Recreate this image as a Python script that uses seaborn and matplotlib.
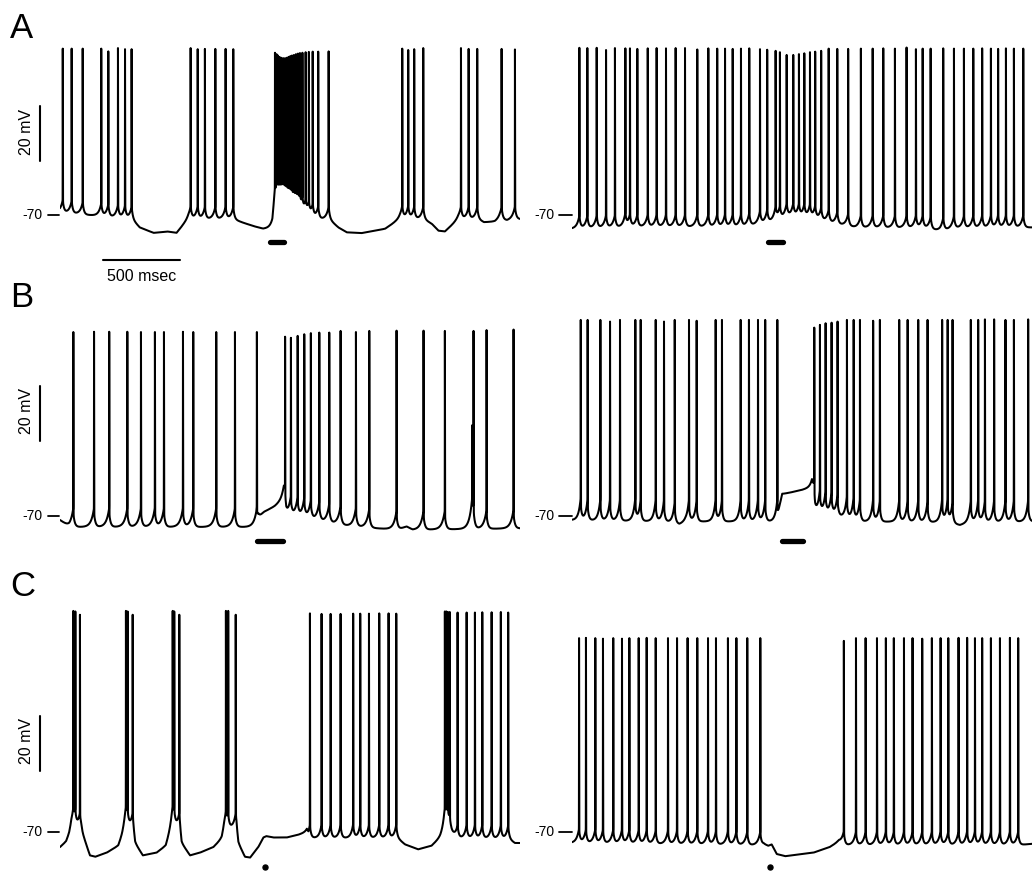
import numpy as np
import matplotlib
matplotlib.use("Agg")
import matplotlib.pyplot as plt
import seaborn as sns

# ---------------- data (time in ms, membrane potential in mV) ----------------
# Row A, left
a_left_spikes = [18, 76, 148, 269, 315, 378, 424, 467,
                 852, 898, 945, 1013, 1080, 1130,
                 1402, 1412, 1421, 1431, 1441, 1451, 1460, 1470, 1480, 1491, 1502,
                 1513, 1526, 1539, 1552, 1565, 1581, 1602, 1623, 1648, 1684, 1752,
                 2232, 2271, 2310, 2369, 2615, 2665, 2721, 2880, 2967]
a_left_peaks = [-9.5, -9.5, -9.5, -9.5, -10.5, -9.3, -9.7, -9.7,
                -9.3, -9.7, -9.6, -9.6, -9.6, -9.7,
                -11, -11.5, -12, -12.5, -12.8, -13, -13, -13, -12.8, -12.5, -12.2,
                -12, -11.8, -11.5, -11.3, -11.1, -11, -10.8, -10.7, -10.6, -10.6, -10.5,
                -9.5, -10, -9.7, -9.3, -9.3, -9.6, -9.6, -9.6, -9.8]
a_left_base_t = [0, 470, 520, 610, 700, 760, 805, 838, 1130, 1195, 1260, 1325, 1385,
                 1398, 1410, 1500, 1565, 1645, 1695, 1755, 1815, 1870, 1965, 2055,
                 2120, 2185, 2218, 2372, 2425, 2468, 2510, 2565, 2598, 2725, 2765,
                 2837, 2870, 2915, 2965, 3000]
a_left_base_v = [-69, -71.5, -74.5, -76.5, -76, -76.5, -73.5, -71.5, -71.5, -72.8, -74, -75,
                 -74.7, -70, -69.5, -69.5, -70, -71, -71.5, -71.5, -74.5, -76.3, -76.6,
                 -75.7, -75, -72.6, -71.5, -71.5, -73.2, -75.7, -76, -73.2, -71.5, -71.5,
                 -72.6, -72.4, -71.5, -72, -71.3, -71.5]

# Row A, right
a_right_spikes = [48, 100, 161, 222, 280, 348, 378, 426, 494, 552,
                  613, 676, 737, 817, 889, 947, 998, 1048, 1102, 1156,
                  1226, 1273, 1328, 1356, 1400, 1443, 1480, 1515, 1552, 1586,
                  1625, 1674, 1730, 1801, 1884, 1961, 2030, 2106, 2182, 2243,
                  2287, 2339, 2421, 2491, 2556, 2617, 2675, 2732, 2779, 2830,
                  2882, 2943]
a_right_peaks = [-9.2, -9.3, -9.2, -10, -9.3, -9.4, -9.4, -9.6, -9.4, -9.3,
                 -9.4, -9.3, -9.3, -9.8, -9.4, -9.5, -9.5, -9.6, -9.5, -9.4,
                 -9.7, -9.9, -10.3, -10.8, -11.8, -11.8, -11.5, -11.2, -10.8, -10.6,
                 -10.3, -9.5, -9.6, -9.6, -9.5, -9.5, -9.4, -9.5, -9.1, -9.7,
                 -9.5, -9.5, -9.4, -9.5, -9.5, -9.5, -9.4, -9.5, -9.6, -9.4,
                 -9.5, -9.5]
a_right_base_t = [0, 400, 1100, 1250, 1330, 1400, 1550, 1700, 1850, 2300, 2400, 2500, 3000]
a_right_base_v = [-75, -74.3, -74.3, -73, -72, -70.5, -71, -73, -74.5, -74.8,
                  -75.7, -74.8, -74.5]

# Row B, left
b_left_spikes = [87, 222, 321, 439, 528, 619, 678, 802, 869, 1019, 1141, 1284,
                 1468, 1506, 1550, 1593, 1636, 1691, 1756, 1830, 1930, 2017, 2195,
                 2371, 2510, 2688, 2697, 2782, 2958]
b_left_peaks = [-3.1, -3, -3, -3, -3.1, -3.1, -3.1, -3, -3.1, -3.1, -3.1, -3.1,
                -4.8, -5.2, -4.5, -3.9, -3.5, -3.3, -3.3, -2.7, -3.1, -2.7, -2.6,
                -2.6, -2.7, -37, -2.7, -2.4, -2.2]
b_left_base_t = [0, 60, 1280, 1295, 1330, 1400, 1440, 1460, 1475, 1600, 1750, 1900,
                 2200, 2260, 2300, 3000]
b_left_base_v = [-71.5, -74, -74, -70.5, -68.5, -66.5, -65, -64, -70, -71, -72.5,
                 -73.8, -75, -73.8, -75, -74.5]

# Row B, right
b_right_spikes = [57, 102, 185, 248, 313, 413, 448, 546, 600, 670, 763, 813, 937,
                  978, 1100, 1154, 1213, 1260, 1339,
                  1580, 1617, 1654, 1693, 1732, 1793, 1837, 1878, 1964, 2008, 2134,
                  2189, 2258, 2319, 2414, 2450, 2482, 2601, 2649, 2693, 2753, 2827,
                  2882, 2975]
b_right_peaks = [1.3, 1.3, 1.3, 0.7, 1.3, 1.3, 1.3, 1.3, 0.7, 1.3, 1.3, 1.0, 1.3,
                 1.3, 1.3, 1.3, 1.3, 1.3, 1.3,
                 -1.5, -0.5, 0.1, 0.3, 0.7, 1.3, 1.3, 1.3, 1.0, 1.3, 1.3,
                 1.3, 1.3, 1.3, 1.3, 1.3, 1.3, 1.3, 1.3, 1.5, 1.5, 1.3, 1.3, 1.5]
b_right_base_t = [0, 600, 700, 740, 900, 1340, 1352, 1370, 1420, 1500, 1565, 1585,
                  1700, 1800, 1900, 2450, 2530, 2600, 3000]
b_right_base_v = [-71.5, -72, -73, -72, -72, -72, -67.5, -62, -61.5, -60.5,
                  -59.5, -68.5, -69.5, -71, -72, -72.3, -73.3, -72.3, -72]

# Row C, left
c_left_spikes = [87, 100, 130, 430, 441, 474, 735, 745, 778, 1082, 1097, 1146,
                 1630, 1706, 1765, 1830, 1912, 1958, 2015, 2082, 2143, 2193,
                 2510, 2520, 2530, 2542, 2593, 2652, 2706, 2754, 2815, 2875, 2923]
c_left_peaks = [10.4, 10.2, 9.0, 10.4, 10.2, 9.0, 10.4, 10.2, 9.0, 10.4, 10.4, 9.0,
                9.5, 9.3, 9.3, 9.3, 9.4, 9.4, 9.4, 9.5, 9.5, 9.4,
                10.2, 10.2, 10.0, 10.0, 9.8, 9.8, 9.8, 9.9, 9.9, 10.0, 9.8]
c_left_base_t = [0, 40, 60, 75, 135, 150, 195, 230, 305, 380, 405, 425, 475, 490, 540,
                 630, 690, 710, 730, 780, 793, 848, 913, 1000, 1055, 1072, 1150,
                 1163, 1206, 1240, 1293, 1326, 1345, 1391, 1478, 1554, 1610, 1620,
                 2195, 2217, 2250, 2336, 2423, 2480, 2505, 2550, 2590, 2925, 2967, 3000]
c_left_base_v = [-75.5, -73.5, -71, -68, -68, -71, -78.5, -79, -77.5, -75, -71.5, -68,
                 -68, -74, -78.5, -77.5, -75, -71.5, -68, -68, -74, -78.5,
                 -77.5, -75.5, -72.5, -69, -68, -74, -79, -79.3, -75.5, -72,
                 -71.5, -72, -72, -71, -70, -72.2, -72.2, -73, -74.5, -76.3,
                 -75, -72, -70, -70, -72.2, -72.5, -74, -74]

# Row C, right
c_right_spikes = [46, 91, 152, 202, 269, 326, 374, 435, 487, 546, 626, 685, 754, 817,
                  887, 939, 1017, 1072, 1143, 1228,
                  1773, 1852, 1915, 1989, 2047, 2099, 2165, 2221, 2284, 2347, 2404,
                  2454, 2521, 2577, 2628, 2675, 2732, 2791, 2856, 2910]
c_right_peaks = [0.5, 0.6, 0.5, 0.3, 0.5, 0.3, 0.5, 0.5, 0.6, 0.5, 0.5, 0.5, 0.5, 0.5,
                 0.5, 0.5, 0.5, 0.5, 0.5, 0.5,
                 -0.5, 0.5, 0.5, 0.5, 0.5, 0.5, 0.5, 0.5, 0.3, 0.5, 0.5,
                 0.5, 0.6, 0.6, 0.5, 0.5, 0.5, 0.5, 0.6, 0.5]
c_right_base_t = [0, 1230, 1250, 1280, 1302, 1335, 1390, 1575, 1680, 1740, 1780, 2900, 3000]
c_right_base_v = [-74, -74.8, -74.3, -75, -74.5, -78, -78.8, -77.5, -75.5, -73.5, -74.8,
                  -74.8, -74.3]

# stimulus markers (start, end ms) and level (mV)
stim_bars = {"A_left": (1369, 1460), "A_right": (1279, 1378),
             "B_left": (1282, 1455), "B_right": (1367, 1504)}
stim_dots = {"C_left": 1337, "C_right": 1291}

row_labels = ["A", "B", "C"]
scale_mv = 20
scale_ms = 500

# ---------------- figure / layout ----------------
FIG_W, FIG_H = 1034, 873
PX_PER_MV = 2.75
TRACE_W_PX = 460
T_MAX = 3000
COL_X = [60, 572]
ROW_Y70 = [215, 516, 832]
ROW_YLIM = [(-85, 0), (-85, 10), (-85, 15)]

sns.set_theme(style="white")
plt.rcParams["font.family"] = ["Liberation Sans", "DejaVu Sans"]
plt.rcParams["text.color"] = "black"

fig = plt.figure(figsize=(FIG_W / 100, FIG_H / 100), dpi=100)


def rect(x_px, y70_px, ylim):
    bottom_px = y70_px + (-70 - ylim[0]) * PX_PER_MV
    h_px = (ylim[1] - ylim[0]) * PX_PER_MV
    return [x_px / FIG_W, 1 - bottom_px / FIG_H, TRACE_W_PX / FIG_W, h_px / FIG_H]


def build(spk_t, spk_v, base_t, base_v, ppre, tpre, ppost, tpost):
    t = np.arange(0, T_MAX, 0.25)
    v = np.interp(t, base_t, base_v)
    for ts in spk_t:
        dt = t - ts
        v += np.where(dt < 0, ppre * np.exp(np.minimum(dt, 0) / tpre),
                      ppost * np.exp(-np.maximum(dt, 0) / tpost))
    sub = v.copy()
    for ts, pk in zip(spk_t, spk_v):
        dt = t - ts
        amp = pk - np.interp(ts, t, sub)
        w = np.where(dt < 0, 0.5, 0.9)
        v += amp * np.exp(-(dt / w) ** 2)
    return t, v


panels = [
    (0, 0, a_left_spikes, a_left_peaks, a_left_base_t, a_left_base_v, (4.5, 16, 4.5, 8)),
    (0, 1, a_right_spikes, a_right_peaks, a_right_base_t, a_right_base_v, (4.5, 16, 4.5, 8)),
    (1, 0, b_left_spikes, b_left_peaks, b_left_base_t, b_left_base_v, (7, 18, 5, 9)),
    (1, 1, b_right_spikes, b_right_peaks, b_right_base_t, b_right_base_v, (8, 14, 5, 8)),
    (2, 0, c_left_spikes, c_left_peaks, c_left_base_t, c_left_base_v, (5, 14, 4.5, 8)),
    (2, 1, c_right_spikes, c_right_peaks, c_right_base_t, c_right_base_v, (5, 16, 4.5, 8)),
]

stim_keys = [["A_left", "A_right"], ["B_left", "B_right"], ["C_left", "C_right"]]
stim_levels = [-79.7, -79.1, -82.7]
bar_levels = [(-50.5, -30.5), (-42.7, -22.7), (-47.8, -27.8)]
label_base_px = [38, 307, 596]

for r, c, st, sp, bt, bv, kp in panels:
    ax = fig.add_axes(rect(COL_X[c], ROW_Y70[r], ROW_YLIM[r]))
    t, v = build(st, sp, bt, bv, *kp)
    sns.lineplot(x=t, y=v, ax=ax, color="black", linewidth=1.45,
                 estimator=None, sort=False, legend=False)
    ax.lines[-1].set_solid_joinstyle("round")
    ax.set_xlim(0, T_MAX)
    ax.set_ylim(*ROW_YLIM[r])
    ax.set_axis_off()

    # -70 reference tick + label
    if c == 0:
        ax.plot([-78, -7], [-70, -70], color="black", lw=1.3, clip_on=False)
    else:
        ax.plot([-88, -3], [-70, -70], color="black", lw=1.3, clip_on=False)
    ax.text(-111, -70, "-70", ha="right", va="center", fontsize=10,
            color="black", clip_on=False)

    # stimulus marker
    key = stim_keys[r][c]
    if key in stim_bars:
        s0, s1 = stim_bars[key]
        ax.plot([s0, s1], [stim_levels[r], stim_levels[r]], color="black", lw=3.8,
                solid_capstyle="round", clip_on=False)
    else:
        ax.plot([stim_dots[key]], [stim_levels[r]], "o", color="black",
                markersize=3.6, clip_on=False)

    # vertical 20 mV scale bar on the left column
    if c == 0:
        y0, y1 = bar_levels[r]
        ax.plot([-130, -130], [y0, y1], color="black", lw=1.5, clip_on=False)
        ax.text(-218, (y0 + y1) / 2 + 0.8, f"{scale_mv} mV", rotation=90,
                ha="center", va="center", fontsize=11.5, color="black", clip_on=False)
        if r == 0:
            ax.plot([280, 280 + scale_ms], [-86.4, -86.4], color="black", lw=1.5,
                    clip_on=False)
            ax.text(280 + scale_ms / 2, -89.8, f"{scale_ms} msec", ha="center",
                    va="top", fontsize=11.5, color="black", clip_on=False)

for lab, ypx in zip(row_labels, label_base_px):
    fig.text(10 / FIG_W, 1 - ypx / FIG_H, lab, fontsize=25, ha="left",
             va="baseline", color="black")

fig.savefig("out.png", dpi=100, facecolor="white")
